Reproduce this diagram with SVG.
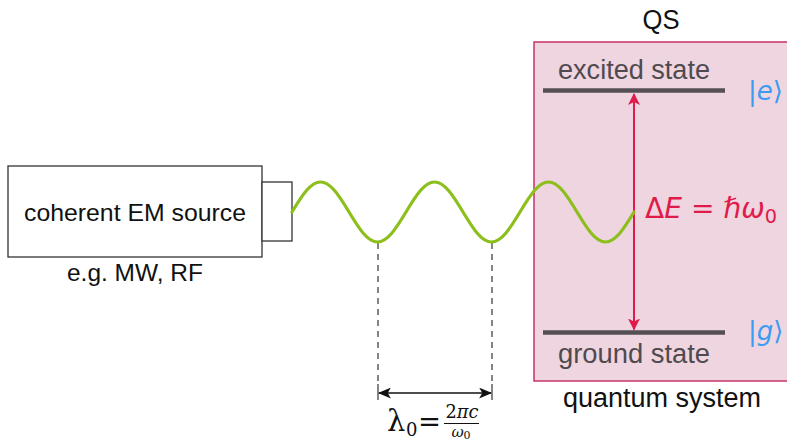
<svg xmlns="http://www.w3.org/2000/svg" width="787" height="443" viewBox="0 0 787 443">
<style>
.sans{font-family:"Liberation Sans","DejaVu Sans",sans-serif}
.lbl{font-size:24px;fill:#111}
.state{font-size:27px;fill:#4f4a4f}
.ket{font-family:"DejaVu Sans",sans-serif;font-size:26px;fill:#3b9cf2}
.lvl{stroke:#554f55;stroke-width:4.5}
.dash{stroke:#222;stroke-width:1.1;stroke-dasharray:6,5;fill:none}
.serif{font-family:"DejaVu Serif","Liberation Serif",serif;fill:#111}
</style>
<defs>
<marker id="redhead" viewBox="0 0 12 12" refX="11" refY="6" markerWidth="12" markerHeight="12" markerUnits="userSpaceOnUse" orient="auto-start-reverse">
<path d="M0,0 L12,6 L0,12 L3,6 Z" fill="#e11a4c"/>
</marker>
<marker id="blackhead" viewBox="0 0 12 10" refX="11" refY="5" markerWidth="13" markerHeight="11" markerUnits="userSpaceOnUse" orient="auto-start-reverse">
<path d="M0,0 L12,5 L0,10 L3,5 Z" fill="#111"/>
</marker>
</defs>
<rect width="787" height="443" fill="#fff"/>

<g id="qs">
<rect x="534" y="42" width="256" height="339" fill="#efd5df" stroke="#c8326a" stroke-width="1.5"/>
<text class="sans" x="661" y="29" font-size="27" text-anchor="middle" fill="#111" textLength="37" lengthAdjust="spacingAndGlyphs">QS</text>
<text class="sans" x="662" y="407" font-size="27" text-anchor="middle" fill="#111" textLength="198" lengthAdjust="spacingAndGlyphs">quantum system</text>
</g>

<g id="excited">
<line class="lvl" x1="543" y1="90.5" x2="725" y2="90.5"/>
<text class="sans state" x="634" y="79" text-anchor="middle" textLength="152" lengthAdjust="spacingAndGlyphs">excited state</text>
<text class="ket" x="748" y="100">|<tspan font-style="italic">e</tspan>⟩</text>
</g>

<g id="ground">
<line class="lvl" x1="543" y1="332.5" x2="725" y2="332.5"/>
<text class="sans state" x="634" y="363" text-anchor="middle" textLength="152" lengthAdjust="spacingAndGlyphs">ground state</text>
<text class="ket" x="748" y="340">|<tspan font-style="italic">g</tspan>⟩</text>
</g>

<g id="source">
<rect x="8" y="166" width="254" height="91" fill="#fff" stroke="#333" stroke-width="1.3"/>
<text class="sans lbl" x="135" y="221" text-anchor="middle" textLength="222" lengthAdjust="spacingAndGlyphs">coherent EM source</text>
<text class="sans lbl" x="135" y="281" text-anchor="middle" textLength="136" lengthAdjust="spacingAndGlyphs">e.g. MW, RF</text>
</g>

<g id="emitter">
<rect x="262" y="182" width="30" height="59" fill="#fff" stroke="#333" stroke-width="1.3"/>
</g>

<g id="connectors">
<line class="dash" x1="378" y1="243" x2="378" y2="386"/>
<line class="dash" x1="492" y1="243" x2="492" y2="386"/>
<line x1="378" y1="384" x2="378" y2="400" stroke="#222" stroke-width="1.1"/>
<line x1="492" y1="384" x2="492" y2="400" stroke="#222" stroke-width="1.1"/>
<line x1="379" y1="393" x2="491" y2="393" stroke="#111" stroke-width="1.3" marker-start="url(#blackhead)" marker-end="url(#blackhead)"/>
<line x1="634" y1="94" x2="634" y2="329.5" stroke="#e11a4c" stroke-width="2" marker-start="url(#redhead)" marker-end="url(#redhead)"/>
</g>

<g id="wave">
<path fill="none" stroke="#8cbf1c" stroke-width="3.2" stroke-linecap="round" d="M292,212 c4.75,-7.854 9.5,-15.659 14.25,-21.213 s9.5,-8.787 14.25,-8.787 s9.5,3.233 14.25,8.787 s9.5,13.359 14.25,21.213 s9.5,15.659 14.25,21.213 s9.5,8.787 14.25,8.787 s9.5,-3.233 14.25,-8.787 s9.5,-13.359 14.25,-21.213 s9.5,-15.659 14.25,-21.213 s9.5,-8.787 14.25,-8.787 s9.5,3.233 14.25,8.787 s9.5,13.359 14.25,21.213 s9.5,15.659 14.25,21.213 s9.5,8.787 14.25,8.787 s9.5,-3.233 14.25,-8.787 s9.5,-13.359 14.25,-21.213 s9.5,-15.659 14.25,-21.213 s9.5,-8.787 14.25,-8.787 s9.5,3.233 14.25,8.787 s9.5,13.359 14.25,21.213 s9.5,15.659 14.25,21.213 s9.5,8.787 14.25,8.787 s9.5,-3.233 14.25,-8.787 s9.5,-13.359 14.25,-21.213"/>
</g>

<g id="energy-label">
<text x="645" y="218" font-family="DejaVu Sans,sans-serif" font-size="29" fill="#e11a4c" textLength="132" lengthAdjust="spacingAndGlyphs">Δ<tspan font-style="italic">E</tspan> = <tspan font-style="italic">ℏω</tspan><tspan font-size="20" dy="5">0</tspan></text>
</g>

<g id="wavelength-label">
<text class="serif" x="387" y="431" font-size="29">λ</text>
<text class="serif" x="406" y="436" font-size="18">0</text>
<text class="serif" x="418" y="431" font-size="28" textLength="23" lengthAdjust="spacingAndGlyphs">=</text>
<text class="serif" x="462" y="418" font-size="19" text-anchor="middle" textLength="33" lengthAdjust="spacingAndGlyphs">2<tspan font-style="italic">πc</tspan></text>
<line x1="444" y1="423.5" x2="479" y2="423.5" stroke="#111" stroke-width="1.1"/>
<text class="serif" x="461" y="437" font-size="15" text-anchor="middle"><tspan font-style="italic">ω</tspan><tspan font-size="11" dy="2">0</tspan></text>
</g>
</svg>
